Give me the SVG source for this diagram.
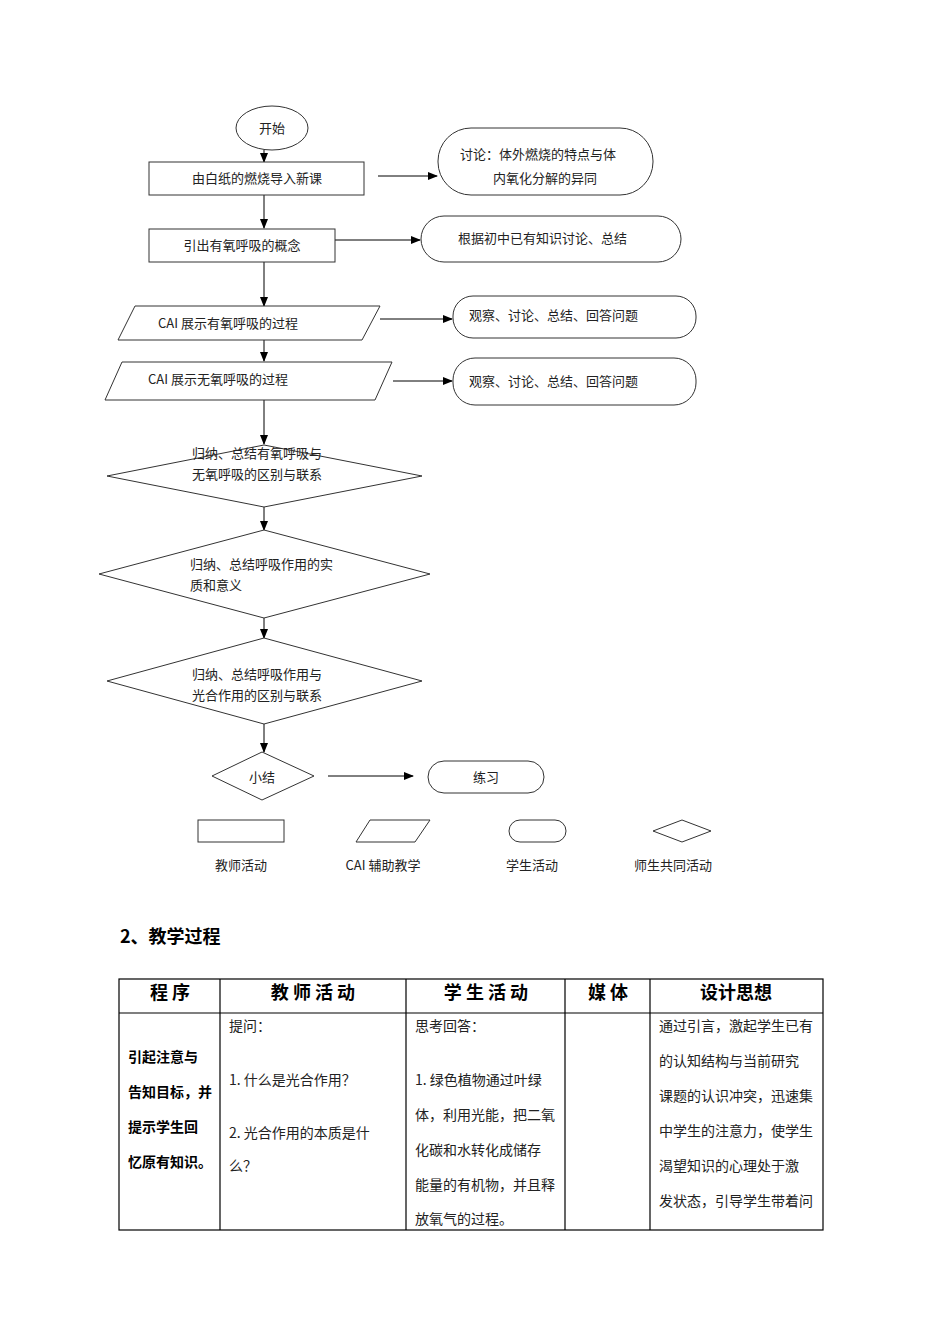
<svg xmlns="http://www.w3.org/2000/svg" width="950" height="1344" viewBox="0 0 950 1344">
<defs>
<marker id="ah" markerWidth="10" markerHeight="8" refX="9" refY="4" orient="auto" markerUnits="userSpaceOnUse"><path d="M0,0 L10,4 L0,8 Z" fill="#000"/></marker>
<style>
.s{fill:#fff;stroke:#333;stroke-width:1}
.t{font-family:"Noto Sans CJK SC","Liberation Sans",sans-serif;font-size:13px;fill:#222}
.c{text-anchor:middle}
.l{stroke:#000;stroke-width:1;fill:none;marker-end:url(#ah)}
.tb{font-family:"Noto Sans CJK SC",serif;font-size:14px;fill:#222}
.th{font-family:"Noto Sans CJK SC",sans-serif;font-size:18px;font-weight:bold;fill:#000;text-anchor:middle}
.g{stroke:#000;stroke-width:1.2;fill:none}
</style>
</defs>
<rect width="950" height="1344" fill="#fff"/>
<g id="connectors">
<path class="l" d="M264,150V162"/>
<path class="l" d="M264,195V228"/>
<path class="l" d="M264,262V306"/>
<path class="l" d="M264,340V361"/>
<path class="l" d="M264,400V444"/>
<path class="l" d="M264,507V530"/>
<path class="l" d="M264,618V638"/>
<path class="l" d="M264,724V752"/>
<path class="l" d="M378,176H437"/>
<path class="l" d="M335,240H420"/>
<path class="l" d="M380,319H452"/>
<path class="l" d="M393,381H452"/>
<path class="l" d="M328,776H413"/>
</g>
<g id="start"><ellipse class="s" cx="272" cy="128" rx="36" ry="22"/><text class="t c" x="272" y="133">开始</text></g>
<g id="n1"><rect class="s" x="149" y="162" width="215" height="33"/><text class="t c" x="257" y="183">由白纸的燃烧导入新课</text></g>
<g id="n1r"><rect class="s" x="438" y="128" width="215" height="67" rx="33"/><text class="t" x="460" y="159">讨论：体外燃烧的特点与体</text><text class="t" x="493" y="183">内氧化分解的异同</text></g>
<g id="n2"><rect class="s" x="149" y="229" width="186" height="33"/><text class="t c" x="242" y="250">引出有氧呼吸的概念</text></g>
<g id="n2r"><rect class="s" x="421" y="216" width="260" height="46" rx="23"/><text class="t" x="458" y="243">根据初中已有知识讨论、总结</text></g>
<g id="n3"><polygon class="s" points="135,306 380,306 362,340 118,340"/><text class="t" x="158" y="328">CAI 展示有氧呼吸的过程</text></g>
<g id="n3r"><rect class="s" x="453" y="296" width="243" height="42" rx="20"/><text class="t" x="469" y="320">观察、讨论、总结、回答问题</text></g>
<g id="n4"><polygon class="s" points="122,362 392,362 375,400 105,400"/><text class="t" x="148" y="384">CAI 展示无氧呼吸的过程</text></g>
<g id="n4r"><rect class="s" x="453" y="358" width="243" height="47" rx="22"/><text class="t" x="469" y="386">观察、讨论、总结、回答问题</text></g>
<g id="d1"><polygon class="s" points="264,445 422,476 264,507 107,476"/><text class="t" x="192" y="458">归纳、总结有氧呼吸与</text><text class="t" x="192" y="479">无氧呼吸的区别与联系</text></g>
<g id="d2"><polygon class="s" points="264,530 430,574 264,618 99,574"/><text class="t" x="190" y="569">归纳、总结呼吸作用的实</text><text class="t" x="190" y="590">质和意义</text></g>
<g id="d3"><polygon class="s" points="264,638 422,681 264,724 107,681"/><text class="t" x="192" y="679">归纳、总结呼吸作用与</text><text class="t" x="192" y="700">光合作用的区别与联系</text></g>
<g id="d4"><polygon class="s" points="262,752 314,776 262,800 212,776"/><text class="t c" x="262" y="782">小结</text></g>
<g id="ex"><rect class="s" x="428" y="761" width="116" height="32" rx="16"/><text class="t c" x="486" y="782">练习</text></g>
<g id="legend">
<rect class="s" x="198" y="820" width="86" height="22"/>
<polygon class="s" points="370,820 430,820 415,842 356,842"/>
<rect class="s" x="509" y="820" width="57" height="22" rx="11"/>
<polygon class="s" points="682,820 711,831 682,842 653,831"/>
<text class="t c" x="241" y="870">教师活动</text>
<text class="t c" x="383" y="870">CAI 辅助教学</text>
<text class="t c" x="532" y="870">学生活动</text>
<text class="t c" x="673" y="870">师生共同活动</text>
</g>
<text x="120" y="943" style="font-family:'Noto Sans CJK SC',sans-serif;font-size:18px;font-weight:bold">2、教学过程</text>
<g id="table">
<rect class="g" x="119" y="979" width="704" height="251"/>
<path class="g" d="M119,1013H823M220,979V1230M406,979V1230M565,979V1230M650,979V1230"/>
<text class="th" x="170" y="999">程 序</text>
<text class="th" x="313" y="999">教 师 活 动</text>
<text class="th" x="486" y="999">学 生 活 动</text>
<text class="th" x="608" y="999">媒 体</text>
<text class="th" x="736" y="999">设计思想</text>
<g style="font-family:'Noto Sans CJK SC',sans-serif;font-size:14px;font-weight:bold">
<text x="128" y="1062">引起注意与</text><text x="128" y="1097">告知目标，并</text><text x="128" y="1132">提示学生回</text><text x="128" y="1167">忆原有知识。</text>
</g>
<text class="tb" x="229" y="1031">提问：</text>
<text class="tb" x="229" y="1085">1. 什么是光合作用？</text>
<text class="tb" x="229" y="1138">2. 光合作用的本质是什</text>
<text class="tb" x="229" y="1171">么？</text>
<text class="tb" x="415" y="1031">思考回答：</text>
<text class="tb" x="415" y="1085">1. 绿色植物通过叶绿</text>
<text class="tb" x="415" y="1120">体，利用光能，把二氧</text>
<text class="tb" x="415" y="1155">化碳和水转化成储存</text>
<text class="tb" x="415" y="1190">能量的有机物，并且释</text>
<text class="tb" x="415" y="1224">放氧气的过程。</text>
<text class="tb" x="659" y="1031">通过引言，激起学生已有</text>
<text class="tb" x="659" y="1066">的认知结构与当前研究</text>
<text class="tb" x="659" y="1101">课题的认识冲突，迅速集</text>
<text class="tb" x="659" y="1136">中学生的注意力，使学生</text>
<text class="tb" x="659" y="1171">渴望知识的心理处于激</text>
<text class="tb" x="659" y="1206">发状态，引导学生带着问</text>
</g>
</svg>
